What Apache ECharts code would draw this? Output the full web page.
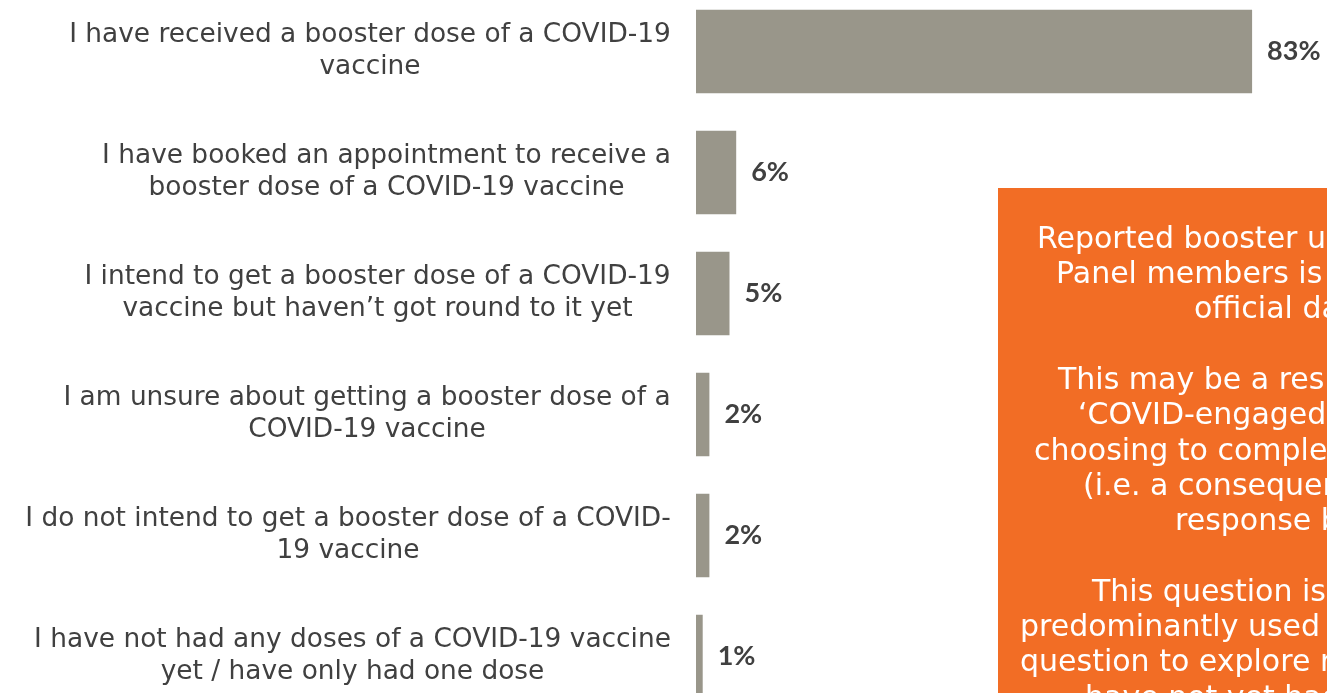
<!DOCTYPE html>
<html>
<head>
<meta charset="utf-8">
<script src="https://cdn.jsdelivr.net/npm/echarts@6/dist/echarts.min.js"></script>
<style>
html,body{margin:0;padding:0;background:#fff;overflow:hidden;width:1327px;height:693px;position:relative;}
#chart{position:absolute;left:0;top:-9px;width:1400px;height:760px;}
</style>
</head>
<body>
<div id="chart"></div>
<script>
const categories = [
  "I have received a booster dose of a COVID-19\nvaccine",
  "I have booked an appointment to receive a\nbooster dose of a COVID-19 vaccine",
  "I intend to get a booster dose of a COVID-19\nvaccine but haven\u2019t got round to it yet",
  "I am unsure about getting a booster dose of a\nCOVID-19 vaccine",
  "I do not intend to get a booster dose of a COVID-\n19 vaccine",
  "I have not had any doses of a COVID-19 vaccine\nyet / have only had one dose"
];
const values = [83, 6, 5, 2, 2, 1];

const noteLines = [
  "Reported booster uptake among",
  "Panel members is higher than",
  "official data.",
  "",
  "This may be a result of more",
  "\u2018COVID-engaged\u2019 people",
  "choosing to complete surveys",
  "(i.e. a consequence of non-",
  "response bias).",
  "",
  "This question is",
  "predominantly used as a filter",
  "question to explore reasons people",
  "have not yet had a booster"
];
const noteStarts = [1037, 1056, 1194, null, 1058, 1078, 1034, 1083, 1175, null, 1092, 1020, 1020, 1085];

const OFF = 9; // chart div is shifted up by this many px
const labelFontSize = 26.4;
const labelFamily = 'DejaVu Sans';
const cv = document.createElement('canvas').getContext('2d');
cv.font = labelFontSize + 'px "' + labelFamily + '"';
const rich = {};
categories.forEach((c, i) => {
  const w = Math.max(...c.split('\n').map(l => cv.measureText(l).width));
  rich['c' + i] = {width: Math.ceil(w), align: 'center', fontSize: labelFontSize, fontFamily: labelFamily, color: '#404040', lineHeight: 32};
});

const graphics = [{
  type: 'rect', shape: {x: 998, y: 188 + OFF, width: 600, height: 600},
  style: {fill: '#F26D25'}, z: 10
}];
noteLines.forEach((t, i) => {
  if (!t) return;
  graphics.push({
    type: 'text', x: noteStarts[i], y: 250 + i * 35.3 - 10 + OFF, z: 11,
    style: {text: t, fill: '#ffffff', font: '30px "DejaVu Sans"', textAlign: 'left', textVerticalAlign: 'middle'}
  });
});

const chart = echarts.init(document.getElementById('chart'));
chart.setOption({
  animation: false,
  grid: {left: 696, top: 0, width: 670, height: 726, containLabel: false, outerBoundsMode: 'none'},
  xAxis: {type: 'value', min: 0, max: 100, show: false},
  yAxis: {
    type: 'category', data: categories, inverse: true,
    axisLine: {show: false}, axisTick: {show: false},
    axisLabel: {
      margin: 25, align: 'right', rich: rich,
      formatter: (v, i) => v.split('\n').map(l => '{c' + i + '|' + l + '}').join('\n')
    }
  },
  series: [{
    type: 'bar', data: values, barCategoryGap: '31%',
    itemStyle: {color: '#99968A'},
    label: {
      show: true, position: 'right', distance: 15,
      formatter: '{c}%', color: '#404040',
      fontFamily: 'Lato', fontWeight: 'bold', fontSize: 27
    }
  }],
  graphic: graphics
});
</script>
</body>
</html>
